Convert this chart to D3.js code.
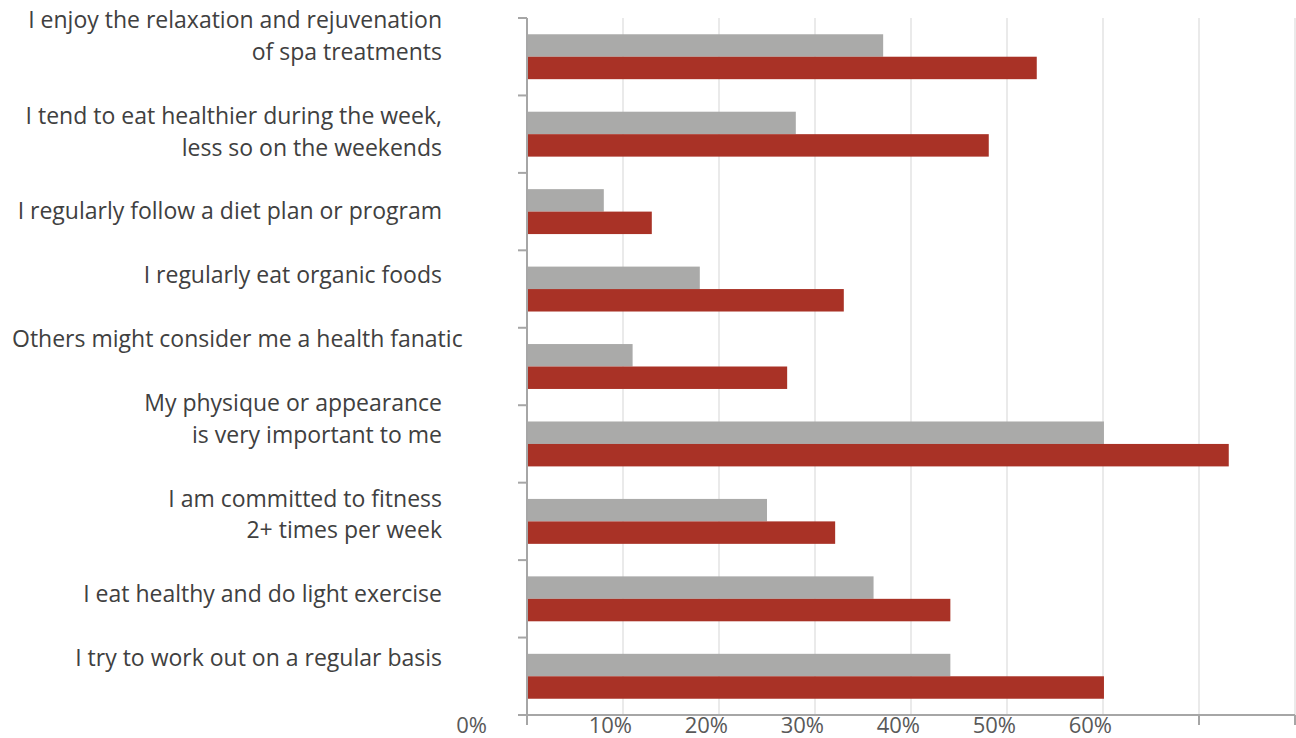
<!DOCTYPE html>
<html><head><meta charset="utf-8">
<script src="https://cdn.jsdelivr.net/npm/d3@7"></script>
<style>
html,body{margin:0;padding:0;background:#fff;}
text{font-family:"Open Sans", Lato, sans-serif;}
</style></head>
<body>
<svg id="chart" width="1296" height="738"></svg>
<script>
const categories = [
  "I enjoy the relaxation and rejuvenation\nof spa treatments",
  "I tend to eat healthier during the week,\nless so on the weekends",
  "I regularly follow a diet plan or program",
  "I regularly eat organic foods",
  "Others might consider me a health fanatic",
  "My physique or appearance\nis very important to me",
  "I am committed to fitness\n2+ times per week",
  "I eat healthy and do light exercise",
  "I try to work out on a regular basis"
];
const seriesGrey = [0.371, 0.280, 0.080, 0.180, 0.110, 0.601, 0.250, 0.361, 0.441];
const seriesRed  = [0.531, 0.481, 0.130, 0.330, 0.271, 0.731, 0.321, 0.441, 0.601];
const tickValues = [0, 0.1, 0.2, 0.3, 0.4, 0.5, 0.6];
const tickLabels = ["0%", "10%", "20%", "30%", "40%", "50%", "60%"];

(function(){
const svg = d3.select("#chart");
const pLeft = 527, pRight = 1295, pTop = 18, pBottom = 715;

const x = d3.scaleLinear().domain([0, 0.8]).range([pLeft, pRight]);
const y = d3.scaleBand().domain(d3.range(categories.length)).range([pTop, pBottom]).paddingInner(0.42).paddingOuter(0.21);
const ySub = d3.scaleBand().domain(["grey", "red"]).range([0, y.bandwidth()]);

// gridlines
const gridVals = d3.range(1, 9).map(d => d / 10);
svg.append("g").selectAll("line").data(gridVals).join("line")
  .attr("x1", d => x(d)).attr("x2", d => x(d))
  .attr("y1", pTop).attr("y2", pBottom)
  .attr("stroke", "#e3e3e3").attr("stroke-width", 1.5);

// bars
const g = svg.append("g");
categories.forEach((c, i) => {
  g.append("rect").attr("x", x(0)).attr("y", y(i) + ySub("grey"))
    .attr("width", x(seriesGrey[i]) - x(0)).attr("height", ySub.bandwidth())
    .attr("fill", "#aaaaa9");
  g.append("rect").attr("x", x(0)).attr("y", y(i) + ySub("red"))
    .attr("width", x(seriesRed[i]) - x(0)).attr("height", ySub.bandwidth())
    .attr("fill", "#a93226");
});

// y axis line and ticks
const axisColor = "#a6a6a6";
svg.append("line").attr("x1", pLeft).attr("x2", pLeft).attr("y1", pTop).attr("y2", pBottom + 10)
  .attr("stroke", axisColor).attr("stroke-width", 2);
const bounds = d3.range(categories.length).map(i => y(i) - y.step() * y.paddingInner() / 2);
bounds[0] = pTop;
svg.append("g").selectAll("line").data(bounds).join("line")
  .attr("x1", pLeft - 9).attr("x2", pLeft).attr("y1", d => d).attr("y2", d => d)
  .attr("stroke", axisColor).attr("stroke-width", 2);

// x axis line
svg.append("line").attr("x1", pLeft - 9).attr("x2", pRight).attr("y1", pBottom).attr("y2", pBottom)
  .attr("stroke", axisColor).attr("stroke-width", 2);
svg.append("g").selectAll("line").data([0.7, 0.8]).join("line")
  .attr("x1", d => x(d)).attr("x2", d => x(d)).attr("y1", pBottom).attr("y2", pBottom + 10)
  .attr("stroke", axisColor).attr("stroke-width", 2);

// x tick labels
svg.append("g").selectAll("text").data(tickValues).join("text")
  .attr("x", (d, i) => i === 0 ? x(d) - 40 : x(d) + 9)
  .attr("y", 733)
  .attr("text-anchor", "end")
  .attr("fill", "#595959")
  .attr("font-size", 22)
  .text((d, i) => tickLabels[i]);

// category labels: flowed lines with a blank line between categories
const lineStep = 31.9;
let k = 0;
const labG = svg.append("g");
categories.forEach((c, i) => {
  const lines = c.split("\n");
  lines.forEach(line => {
    const t = labG.append("text")
      .attr("x", 442).attr("y", 20 + k * lineStep)
      .attr("dy", "0.35em")
      .attr("text-anchor", "end")
      .attr("fill", "#404040")
      .attr("font-size", 23)
      .text(line);
    const w = t.node().getComputedTextLength();
    if (442 - w < 12) { t.attr("text-anchor", "start").attr("x", 12); }
    k++;
  });
  k++;
});
})();
</script>
</body></html>
